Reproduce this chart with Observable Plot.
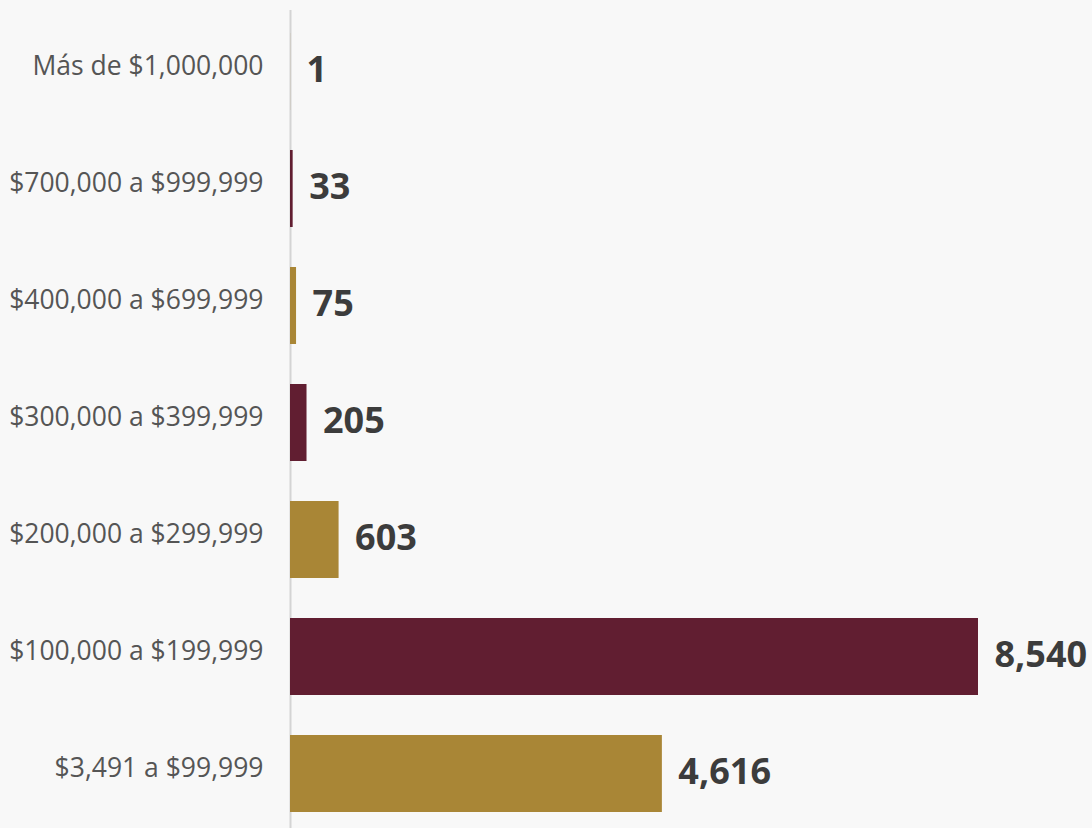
<!DOCTYPE html>
<html>
<head>
<meta charset="utf-8">
<script src="https://cdn.jsdelivr.net/npm/d3@7"></script>
<script src="https://cdn.jsdelivr.net/npm/@observablehq/plot@0.6"></script>
<style>
  html, body { margin: 0; padding: 0; background: #f8f8f8; overflow: hidden; }
  #chart svg { display: block; background: transparent; }
</style>
</head>
<body>
<div id="chart"></div>
<script>
const categories = [
  "Más de $1,000,000",
  "$700,000 a $999,999",
  "$400,000 a $699,999",
  "$300,000 a $399,999",
  "$200,000 a $299,999",
  "$100,000 a $199,999",
  "$3,491 a $99,999"
];
const values = [1, 33, 75, 205, 603, 8540, 4616];

const MAROON = "#611e31";
const GOLD = "#a98636";
const n = categories.length;
const data = categories.map((c, i) => ({category: c, value: values[i], idx: i}));
const fmt = d3.format(",");

const chart = Plot.plot({
  width: 1092,
  height: 828,
  marginLeft: 290,
  marginRight: 114,
  marginTop: 0,
  marginBottom: 0,
  style: {fontFamily: "'Open Sans', sans-serif", background: "transparent"},
  x: {domain: [0, 8540], range: [290, 978], axis: null},
  y: {domain: categories, range: [-10, 855], padding: 0.34, label: null},
  marks: [
    Plot.ruleX([0], {stroke: "#d4d4d4", strokeWidth: 2, insetTop: 10}),
    Plot.barX(data, {
      x: "value",
      y: "category",
      fill: d => ((n - 1 - d.idx) % 2 === 0 ? GOLD : MAROON)
    }),
    Plot.text(data, {
      x: "value",
      y: "category",
      text: d => fmt(d.value),
      textAnchor: "start",
      dx: 16,
      dy: -2,
      fontSize: 36,
      fontWeight: 700,
      fill: "#3c3c3c"
    }),
    Plot.axisY({
      tickSize: 0,
      tickPadding: 27,
      fontSize: 26.5,
      dy: -5,
      color: "#555555",
      label: null
    })
  ]
});
document.getElementById("chart").appendChild(chart);
</script>
</body>
</html>
